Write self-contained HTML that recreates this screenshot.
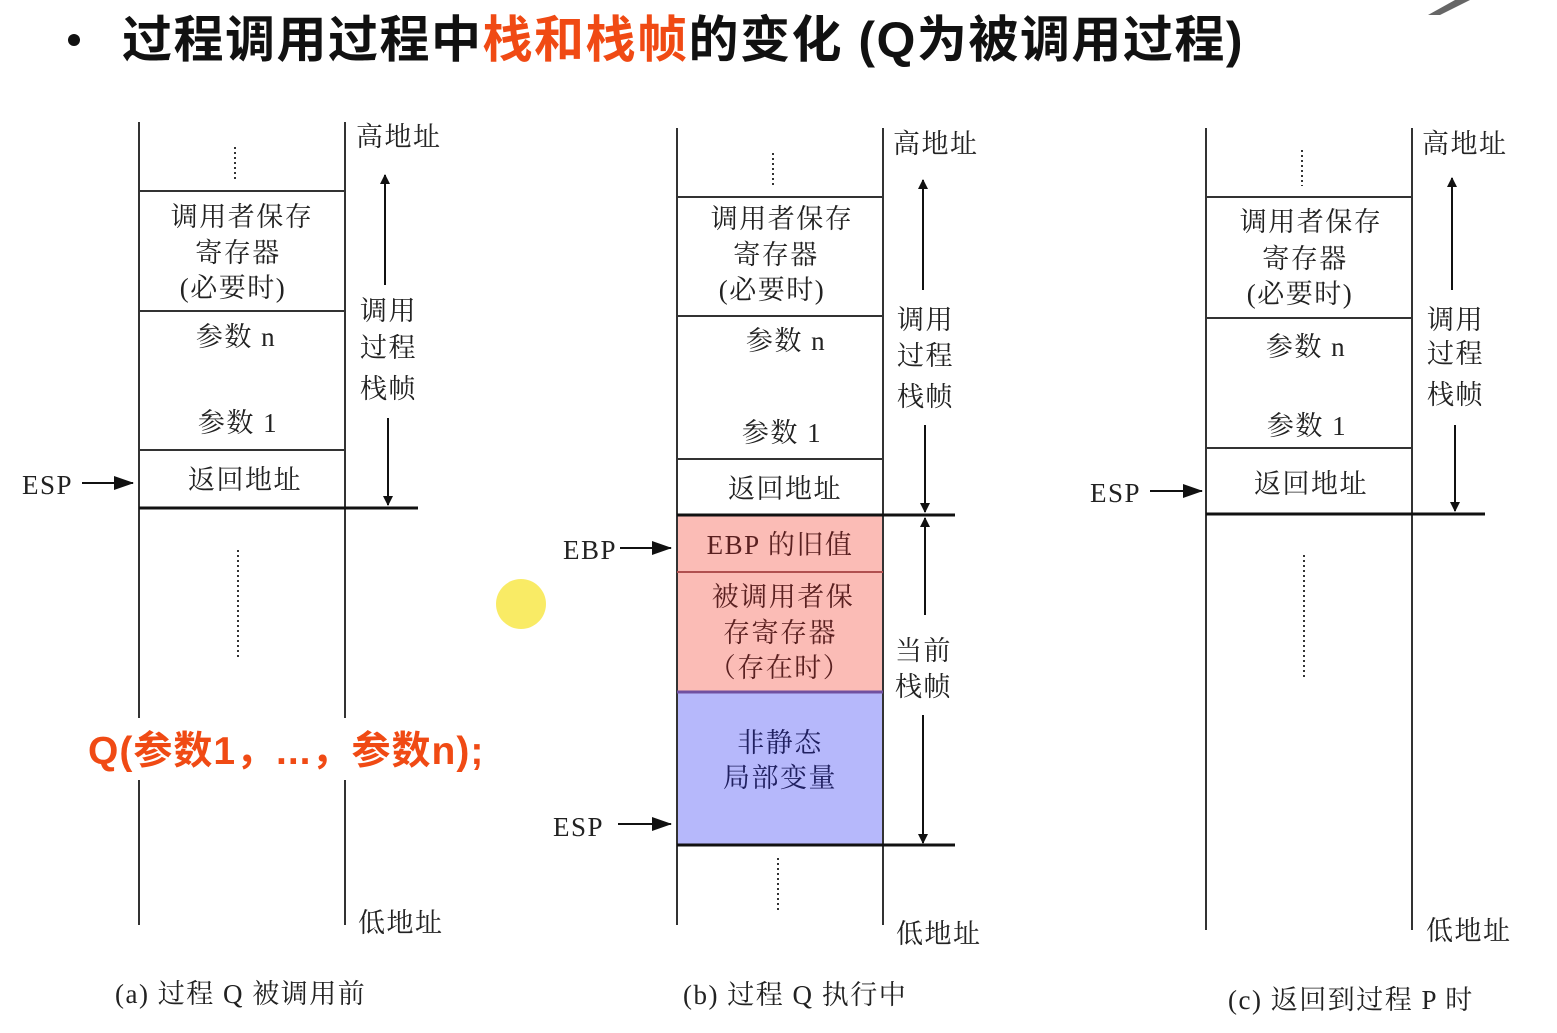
<!DOCTYPE html>
<html><head><meta charset="utf-8"><style>
body{margin:0;background:#fff;}
svg text{font-family:"Liberation Serif","Noto Serif CJK SC","Noto Sans CJK SC",serif;fill:#222;}
.t{font-size:27px;letter-spacing:1.5px;}
.c{text-anchor:middle;}
</style></head><body>
<svg width="1557" height="1028" viewBox="0 0 1557 1028" xmlns="http://www.w3.org/2000/svg">
<defs><marker id="a" markerWidth="10" markerHeight="10" refX="9" refY="5" orient="auto" markerUnits="userSpaceOnUse"><path d="M0,0 L10,5 L0,10z" fill="#111"/></marker>
<marker id="b" markerWidth="20" markerHeight="18" refX="19" refY="9" orient="auto" markerUnits="userSpaceOnUse"><path d="M0,2 L20,9 L0,16z" fill="#111"/></marker></defs>
<circle cx="74" cy="40" r="6" fill="#111"/>
<text x="122" y="57" style="font-family:'Liberation Sans','Noto Sans CJK SC',sans-serif;font-size:50px;font-weight:bold;fill:#111;letter-spacing:1.5px">过程调用过程中<tspan style="fill:#f04a14">栈和栈帧</tspan>的变化 (Q为被调用过程)</text>
<path d="M1428,15 L1455,0 L1470,0 L1440,15z" fill="#666"/>
<g stroke="#333" stroke-width="2" fill="none">
<line x1="139" y1="122" x2="139" y2="925"/><line x1="345" y1="122" x2="345" y2="925"/>
<line x1="139" y1="191" x2="345" y2="191"/><line x1="139" y1="311" x2="345" y2="311"/><line x1="139" y1="450" x2="345" y2="450"/>
<line x1="139" y1="508" x2="418" y2="508" stroke-width="3" stroke="#111"/>
<line x1="235" y1="147" x2="235" y2="180" stroke-dasharray="2 3"/>
<line x1="238" y1="550" x2="238" y2="660" stroke-dasharray="2 3"/>
</g>
<rect x="677" y="515" width="206" height="177" fill="#fbbcb6"/>
<rect x="677" y="692" width="206" height="153" fill="#b6b8fb"/>
<g stroke="#333" stroke-width="2" fill="none">
<line x1="677" y1="128" x2="677" y2="925"/><line x1="883" y1="128" x2="883" y2="925"/>
<line x1="677" y1="197" x2="883" y2="197"/><line x1="677" y1="316" x2="883" y2="316"/><line x1="677" y1="459" x2="883" y2="459"/>
<line x1="677" y1="515" x2="955" y2="515" stroke-width="3" stroke="#111"/>
<line x1="677" y1="572" x2="883" y2="572" stroke="#b05050"/>
<line x1="677" y1="692" x2="883" y2="692" stroke="#7050a0" stroke-width="3"/>
<line x1="677" y1="845" x2="955" y2="845" stroke-width="3" stroke="#111"/>
<line x1="773" y1="153" x2="773" y2="186" stroke-dasharray="2 3"/>
<line x1="778" y1="858" x2="778" y2="910" stroke-dasharray="2 3"/>
<line x1="1206" y1="128" x2="1206" y2="930"/><line x1="1412" y1="128" x2="1412" y2="930"/>
<line x1="1206" y1="197" x2="1412" y2="197"/><line x1="1206" y1="318" x2="1412" y2="318"/><line x1="1206" y1="448" x2="1412" y2="448"/>
<line x1="1206" y1="514" x2="1485" y2="514" stroke-width="3" stroke="#111"/>
<line x1="1302" y1="150" x2="1302" y2="186" stroke-dasharray="2 3"/>
<line x1="1304" y1="555" x2="1304" y2="680" stroke-dasharray="2 3"/>
</g>
<g stroke="#111" stroke-width="2" fill="none">
<line x1="385" y1="285" x2="385" y2="175" marker-end="url(#a)"/>
<line x1="388" y1="418" x2="388" y2="505" marker-end="url(#a)"/>
<line x1="82" y1="483" x2="133" y2="483" marker-end="url(#b)"/>
<line x1="923" y1="290" x2="923" y2="180" marker-end="url(#a)"/>
<line x1="925" y1="425" x2="925" y2="512" marker-end="url(#a)"/>
<line x1="925" y1="615" x2="925" y2="518" marker-end="url(#a)"/>
<line x1="923" y1="715" x2="923" y2="843" marker-end="url(#a)"/>
<line x1="620" y1="548" x2="671" y2="548" marker-end="url(#b)"/>
<line x1="618" y1="824" x2="671" y2="824" marker-end="url(#b)"/>
<line x1="1452" y1="290" x2="1452" y2="178" marker-end="url(#a)"/>
<line x1="1455" y1="425" x2="1455" y2="511" marker-end="url(#a)"/>
<line x1="1150" y1="491" x2="1202" y2="491" marker-end="url(#b)"/>
</g>
<g class="t">
<text x="356" y="146">高地址</text><text x="358" y="932">低地址</text>
<text x="360" y="320">调用</text><text x="360" y="357">过程</text><text x="360" y="398">栈帧</text>
<text x="242" y="226" class="c">调用者保存</text><text x="238" y="262" class="c">寄存器</text><text x="233" y="297" class="c">(必要时)</text>
<text x="236" y="346" class="c">参数 n</text><text x="238" y="432" class="c">参数 1</text><text x="245" y="489" class="c">返回地址</text>
<text x="22" y="494">ESP</text>
<text x="893" y="153">高地址</text><text x="896" y="943">低地址</text>
<text x="897" y="329">调用</text><text x="897" y="365">过程</text><text x="897" y="406">栈帧</text>
<text x="895" y="660">当前</text><text x="895" y="696">栈帧</text>
<text x="782" y="228" class="c">调用者保存</text><text x="776" y="264" class="c">寄存器</text><text x="772" y="299" class="c">(必要时)</text>
<text x="786" y="350" class="c">参数 n</text><text x="782" y="442" class="c">参数 1</text><text x="785" y="498" class="c">返回地址</text>
<text x="780" y="554" class="c" style="fill:#5a2020">EBP 的旧值</text>
<text x="783" y="606" class="c" style="fill:#5a2020">被调用者保</text><text x="780" y="642" class="c" style="fill:#5a2020">存寄存器</text><text x="780" y="677" class="c" style="fill:#5a2020">（存在时）</text>
<text x="780" y="752" class="c" style="fill:#202060">非静态</text><text x="780" y="787" class="c" style="fill:#202060">局部变量</text>
<text x="563" y="559">EBP</text><text x="553" y="836">ESP</text>
<text x="1422" y="153">高地址</text><text x="1426" y="940">低地址</text>
<text x="1427" y="329">调用</text><text x="1427" y="363">过程</text><text x="1427" y="404">栈帧</text>
<text x="1311" y="231" class="c">调用者保存</text><text x="1305" y="268" class="c">寄存器</text><text x="1300" y="303" class="c">(必要时)</text>
<text x="1306" y="356" class="c">参数 n</text><text x="1307" y="435" class="c">参数 1</text><text x="1311" y="493" class="c">返回地址</text>
<text x="1090" y="502">ESP</text>
<text x="115" y="1003">(a) 过程 Q 被调用前</text>
<text x="683" y="1004">(b) 过程 Q 执行中</text>
<text x="1228" y="1009">(c) 返回到过程 P 时</text>
</g>
<rect x="85" y="718" width="400" height="62" fill="#fff"/>
<text x="88" y="764" style="font-family:'Liberation Sans','Noto Sans CJK SC',sans-serif;font-size:39px;font-weight:bold;fill:#f04a14;letter-spacing:1px">Q(参数1，...，参数n);</text>
<circle cx="521" cy="604" r="25" fill="#f8e84a" opacity="0.85"/>
</svg>
</body></html>
